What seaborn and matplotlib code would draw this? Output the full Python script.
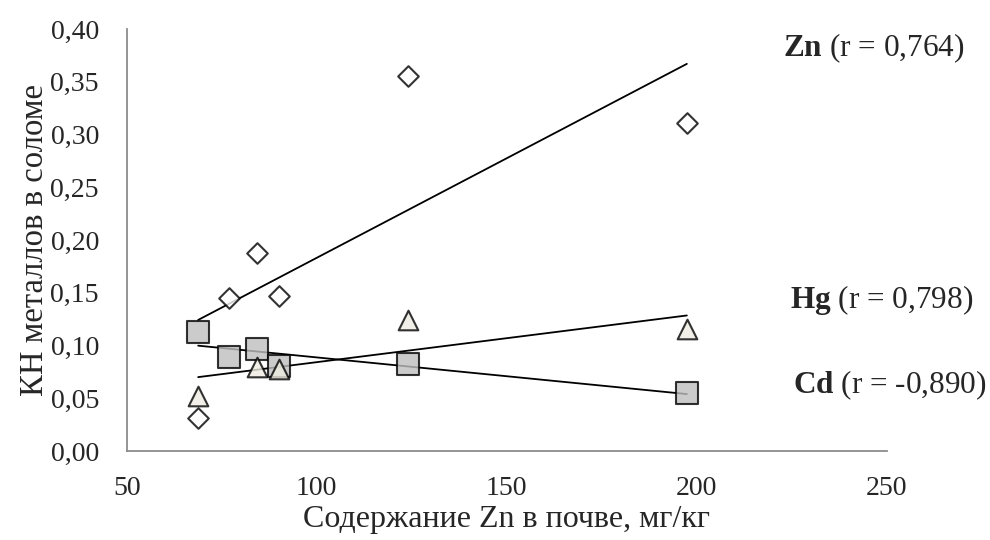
import matplotlib
matplotlib.use("Agg")
import matplotlib.pyplot as plt
import seaborn as sns
import pandas as pd
from matplotlib.ticker import FuncFormatter, MultipleLocator

# Data
zn_soil = [68.8, 76.9, 84.3, 90.1, 124.0, 197.4]
kn_zn = [0.031, 0.145, 0.188, 0.147, 0.355, 0.311]
kn_cd = [0.113, 0.089, 0.097, 0.081, 0.0825, 0.055]
hg_soil = [68.8, 84.3, 90.1, 124.0, 197.4]
kn_hg = [0.0524, 0.080, 0.078, 0.124, 0.116]

labels = ["Zn (r = 0,764)", "Hg (r = 0,798)", "Cd (r = -0,890)"]

sns.set_theme(style="white")
plt.rcParams["font.family"] = ["Liberation Serif", "DejaVu Serif"]
plt.rcParams["mathtext.fontset"] = "custom"
plt.rcParams["mathtext.rm"] = "Liberation Serif"
plt.rcParams["mathtext.bf"] = "Liberation Serif:bold"

fig = plt.figure(figsize=(9.9, 5.4), dpi=100)
ax = fig.add_axes([0.128, 0.1648, 0.7677, 0.7815])

df_zn = pd.DataFrame({"x": zn_soil, "y": kn_zn})
df_cd = pd.DataFrame({"x": zn_soil, "y": kn_cd})
df_hg = pd.DataFrame({"x": hg_soil, "y": kn_hg})

line_kw = dict(color="black", linewidth=1.3)

sns.regplot(data=df_zn, x="x", y="y", ax=ax, ci=None, truncate=True,
            marker="D", line_kws=line_kw,
            scatter_kws=dict(s=110, facecolor="white", edgecolor="black",
                             linewidths=1.5, color="white", zorder=3))
sns.regplot(data=df_cd, x="x", y="y", ax=ax, ci=None, truncate=True,
            marker="s", line_kws=line_kw,
            scatter_kws=dict(s=240, facecolor="#bfbfbf", edgecolor="black",
                             linewidths=1.5, color="#bfbfbf", zorder=3))
sns.regplot(data=df_hg, x="x", y="y", ax=ax, ci=None, truncate=True,
            marker="^", line_kws=line_kw,
            scatter_kws=dict(s=200, facecolor="#eeece1", edgecolor="black",
                             linewidths=1.5, color="#eeece1", zorder=4))

ax.set_xlim(50, 250)
ax.set_ylim(0, 0.40)
ax.xaxis.set_major_locator(MultipleLocator(50))
ax.yaxis.set_major_locator(MultipleLocator(0.05))
ax.yaxis.set_major_formatter(FuncFormatter(lambda v, p: f"{v:.2f}".replace(".", ",")))
ax.xaxis.set_major_formatter(FuncFormatter(lambda v, p: f"{v:.0f}"))

for s in ["top", "right"]:
    ax.spines[s].set_visible(False)
for s in ["left", "bottom"]:
    ax.spines[s].set_color("#8c8c8c")
    ax.spines[s].set_linewidth(1.3)

ax.tick_params(axis="both", which="major", direction="out", length=6,
               width=1.3, color="#8c8c8c", labelsize=20)
ax.tick_params(axis="x", pad=12)
ax.tick_params(axis="y", pad=14)

ax.set_xlabel("Содержание Zn в почве, мг/кг", fontsize=23, labelpad=3)
ax.set_ylabel("КН металлов в соломе", fontsize=23.5, labelpad=0)

names = ["Zn", "Hg", "Cd"]
xs_px = [783, 790, 793]
ys_px = [48, 300, 385]
for name, lab, xp, yp in zip(names, labels, xs_px, ys_px):
    rest = lab[len(name):]
    fig.text(xp / 990, 1 - yp / 540, r"$\mathbf{" + name + "}$" + rest,
             fontsize=22.5, ha="left", va="center")

fig.savefig("out.png", dpi=100)
